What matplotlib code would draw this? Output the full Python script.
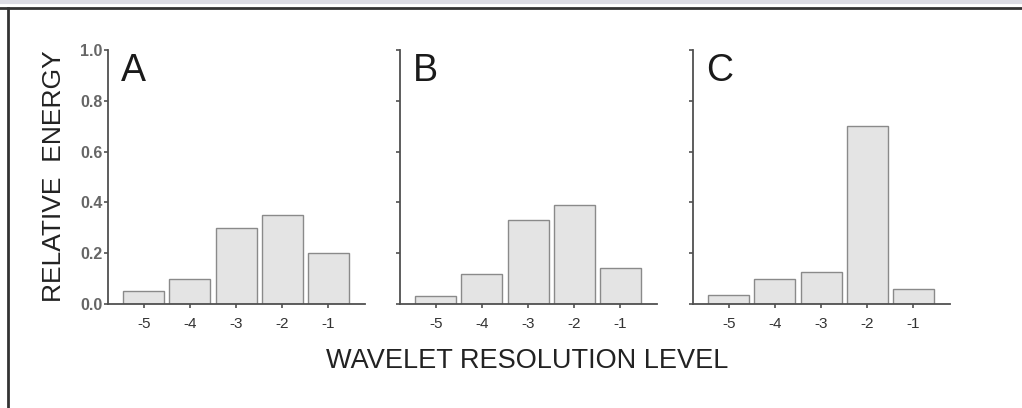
import matplotlib
matplotlib.use("Agg")
import matplotlib.pyplot as plt
from matplotlib.lines import Line2D

plt.rcParams['font.family'] = ['Liberation Sans', 'DejaVu Sans']

levels = [-5, -4, -3, -2, -1]
energy_a = [0.05, 0.10, 0.30, 0.35, 0.20]
energy_b = [0.03, 0.12, 0.33, 0.39, 0.14]
energy_c = [0.035, 0.10, 0.125, 0.70, 0.06]
panel_labels = ["A", "B", "C"]
y_ticks = [0.0, 0.2, 0.4, 0.6, 0.8, 1.0]

fig = plt.figure(figsize=(10.22, 4.08), dpi=100)
fig.patch.set_facecolor("white")

axis_color = "#505050"
bar_face = "#e4e4e4"
bar_edge = "#8a8a8a"

lefts = [108, 400, 693]
width_px = 257
bottom_px, top_px = 304, 50
W, H = 1022, 408

for i, (vals, lab) in enumerate(zip([energy_a, energy_b, energy_c], panel_labels)):
    ax = fig.add_axes([lefts[i] / W, (H - bottom_px) / H,
                       width_px / W, (bottom_px - top_px) / H])
    ax.bar(levels, vals, width=0.89, color=bar_face, edgecolor=bar_edge,
           linewidth=1.0, zorder=2)
    ax.set_xlim(-5.78, -0.2)
    ax.set_ylim(0, 1.0)
    for s in ["top", "right"]:
        ax.spines[s].set_visible(False)
    for s in ["left", "bottom"]:
        ax.spines[s].set_color(axis_color)
        ax.spines[s].set_linewidth(1.3)
    ax.set_xticks(levels)
    ax.set_xticklabels([str(v) for v in levels], fontsize=11, color="#333333")
    ax.set_yticks(y_ticks)
    if i == 0:
        ax.set_yticklabels([f"{v:.1f}" for v in y_ticks], fontsize=11.5,
                           color="#666666", fontweight="bold")
    else:
        ax.set_yticklabels([])
    ax.tick_params(axis="x", direction="out", length=3, width=1.2,
                   color=axis_color, pad=6)
    ax.tick_params(axis="y", direction="out", length=3, width=1.2,
                   color=axis_color, pad=1)
    ax.text(0.05, 0.99, lab, transform=ax.transAxes, fontsize=27,
            color="#1a1a1a", ha="left", va="top")

fig.text(54 / W, (H - 176) / H, "RELATIVE  ENERGY", rotation=90,
         fontsize=19, color="#222222", ha="center", va="center")
fig.text(527 / W, (H - 361) / H, "WAVELET RESOLUTION LEVEL",
         fontsize=19.5, color="#222222", ha="center", va="center")

# outer frame: light strip along the top, dark rules on top and left
fig.add_artist(Line2D([0, 1], [1 - 1.5 / H, 1 - 1.5 / H], transform=fig.transFigure,
                      color="#dcdce4", linewidth=3))
fig.add_artist(Line2D([0, 1], [1 - 8 / H, 1 - 8 / H], transform=fig.transFigure,
                      color="#333333", linewidth=2))
fig.add_artist(Line2D([8 / W, 8 / W], [0, 1 - 8 / H], transform=fig.transFigure,
                      color="#333333", linewidth=2))

fig.savefig("out.png", dpi=100, facecolor="white")
